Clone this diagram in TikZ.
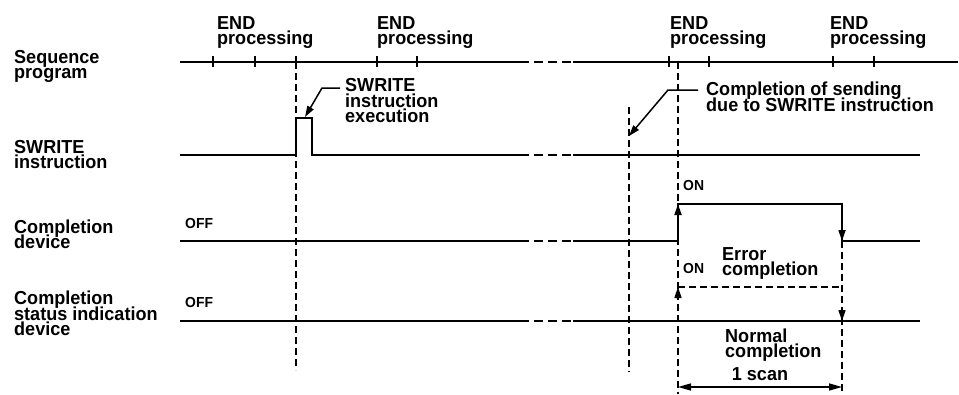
\documentclass[tikz,border=0pt]{standalone}
\usepackage{fontspec}
\setmainfont[FakeStretch=0.96]{Liberation Sans}
\usetikzlibrary{arrows.meta}
\lineskiplimit=-30pt
\tikzset{
  sig/.style={line width=1.7pt},
  sigdash/.style={line width=1.7pt, dash pattern=on 9pt off 5pt},
  guide/.style={line width=1.5pt, dash pattern=on 7pt off 4pt},
  lbl/.style={font=\bfseries\fontsize{18.8}{15.2}\selectfont, align=left, inner sep=0pt, anchor=north west},
  small/.style={font=\bfseries\fontsize{14.5}{15}\selectfont, inner sep=0pt, anchor=base west},
  tipr/.style={-{Triangle[length=11pt,width=7pt]}},
  callout/.style={line width=1.5pt, -{Triangle[length=11pt,width=7pt]}},
  scanarrow/.style={line width=1.5pt, {Triangle[length=13pt,width=7pt]}-{Triangle[length=13pt,width=7pt]}}
}
\begin{document}
\begin{tikzpicture}[x=1pt,y=-1pt]
\useasboundingbox (0,0) rectangle (959,394);

% left labels
\node[lbl] (lseq) at (14,50) {Sequence\\program};
\node[lbl] (lsw) at (14,140) {SWRITE\\instruction};
\node[lbl] (lcd) at (14,219.5) {Completion\\device};
\node[lbl] (lcs) at (14,291) {Completion\\status indication\\device};

% END processing labels
\node[lbl] (e1) at (217,16) {END\\processing};
\node[lbl] (e2) at (377,16) {END\\processing};
\node[lbl] (e3) at (670,16) {END\\processing};
\node[lbl] (e4) at (830,16) {END\\processing};

% sequence program line
\draw[sig] (180,62) -- (520,62);
\draw[sigdash] (520,62) -- (573,62);
\draw[sig] (573,62) -- (958,62);
\foreach \x in {213,255,296,377,417,669,709,833,874}
  \draw[line width=1.3pt] (\x,56) -- (\x,67);

% SWRITE instruction line
\draw[sig] (180,155) -- (296,155) -- (296,118) -- (312,118) -- (312,155) -- (520,155);
\draw[sigdash] (520,155) -- (573,155);
\draw[sig] (573,155) -- (920,155);

% completion device line
\draw[sig] (180,241) -- (520,241);
\draw[sigdash] (520,241) -- (573,241);
\draw[sig] (573,241) -- (678,241) -- (678,204) -- (842,204) -- (842,241) -- (920,241);
\draw[sig,tipr] (678,226) -- (678,204);
\draw[sig,tipr] (842,222) -- (842,241);

% completion status indication device line
\draw[sig] (180,321) -- (520,321);
\draw[sigdash] (520,321) -- (573,321);
\draw[sig] (573,321) -- (920,321);
\draw[guide] (678,287) -- (842,287);
\draw[line width=1.5pt,tipr] (678,299) -- (678,287);
\draw[line width=1.5pt,tipr] (842,309) -- (842,321);

% vertical guide lines
\draw[guide] (296,62) -- (296,370);
\draw[guide] (629,107) -- (629,372);
\draw[guide] (678,62) -- (678,394);
\draw[guide] (842,241) -- (842,394);

% callout: SWRITE instruction execution
\node[lbl] (exec) at (345,78.5) {SWRITE\\instruction\\execution};
\coordinate (c1a) at (340,88);
\coordinate (c1b) at (322,88);
\coordinate (c1t) at (305,117);
\draw[callout] (c1a) -- (c1b) -- (c1t);

% callout: completion of sending
\node[lbl] (send) at (706,82) {Completion of sending\\due to SWRITE instruction};
\coordinate (c2a) at (698,90);
\coordinate (c2b) at (668,90);
\coordinate (c2t) at (629,136);
\draw[callout] (c2a) -- (c2b) -- (c2t);

% ON / OFF
\node[small] (on1) at (683,190.5) {ON};
\node[small] (on2) at (683,273) {ON};
\node[small] (off1) at (185,228) {OFF};
\node[small] (off2) at (185,307) {OFF};

% error / normal completion
\node[lbl] (err) at (722,247.5) {Error\\completion};
\node[lbl] (norm) at (725,328.5) {Normal\\completion};

% 1 scan
\node[font=\bfseries\fontsize{18.8}{15}\selectfont, inner sep=0pt, anchor=base] (scan) at (760,380) {1 scan};
\coordinate (s1) at (678,387);
\coordinate (s2) at (842,387);
\draw[scanarrow] (s1) -- (s2);
\end{tikzpicture}
\end{document}
